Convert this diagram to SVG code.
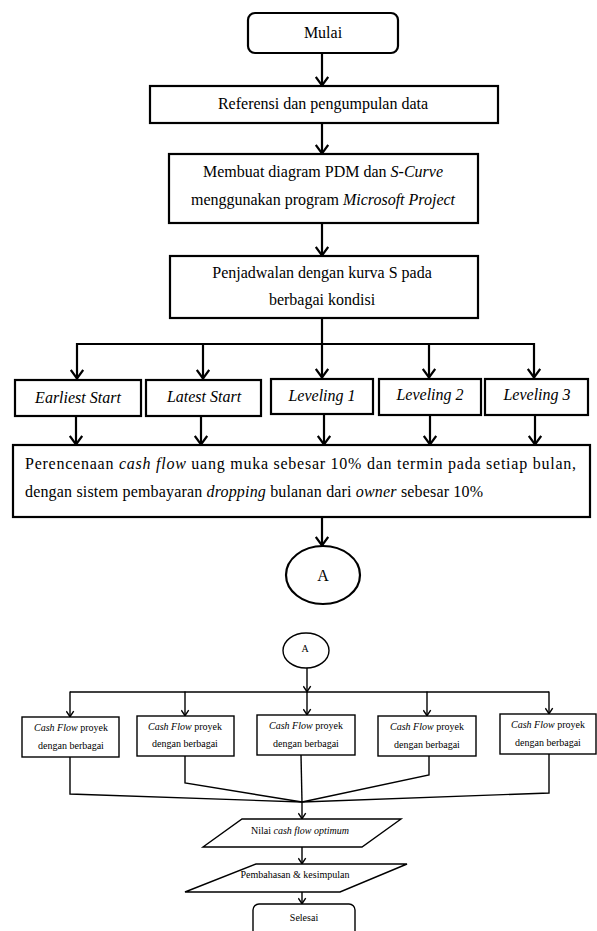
<svg xmlns="http://www.w3.org/2000/svg" width="597" height="931" viewBox="0 0 597 931">
<defs>
<style>
.t{font-family:"Liberation Serif","Times New Roman",serif;font-size:16px;fill:#000;text-anchor:middle}
.s{font-family:"Liberation Serif","Times New Roman",serif;font-size:10px;fill:#000;text-anchor:middle}
.i{font-style:italic}
.box{fill:#fff;stroke:#000;stroke-width:2.2}
.sbox{fill:#fff;stroke:#000;stroke-width:1.4}
.ln{fill:none;stroke:#000;stroke-width:2.2}
.sln{fill:none;stroke:#000;stroke-width:1.4}
</style>
<marker id="ah" viewBox="0 0 12 14" refX="11" refY="7" markerWidth="12" markerHeight="14" markerUnits="userSpaceOnUse" orient="auto">
<path d="M2,0.8 L10.5,7 L2,13.2" fill="none" stroke="#000" stroke-width="2.2"/>
</marker>
<marker id="ahs" viewBox="0 0 8 9" refX="7.3" refY="4.5" markerWidth="8" markerHeight="9" markerUnits="userSpaceOnUse" orient="auto">
<path d="M1.5,0.8 L7,4.5 L1.5,8.2" fill="none" stroke="#000" stroke-width="1.4"/>
</marker>
</defs>
<rect width="597" height="931" fill="#fff"/>

<g id="connectors">
<line class="ln" x1="322" y1="53" x2="322" y2="86" marker-end="url(#ah)"/>
<line class="ln" x1="322" y1="123" x2="322" y2="154" marker-end="url(#ah)"/>
<line class="ln" x1="322" y1="223" x2="322" y2="256" marker-end="url(#ah)"/>
<line class="ln" x1="322" y1="318" x2="322" y2="344"/>
<line class="ln" x1="76" y1="344" x2="535" y2="344"/>
<line class="ln" x1="77" y1="343" x2="77" y2="379" marker-end="url(#ah)"/>
<line class="ln" x1="203" y1="343" x2="203" y2="379" marker-end="url(#ah)"/>
<line class="ln" x1="322" y1="343" x2="322" y2="378" marker-end="url(#ah)"/>
<line class="ln" x1="429" y1="343" x2="429" y2="378" marker-end="url(#ah)"/>
<line class="ln" x1="534" y1="343" x2="534" y2="378" marker-end="url(#ah)"/>
<line class="ln" x1="76" y1="416" x2="76" y2="445" marker-end="url(#ah)"/>
<line class="ln" x1="201" y1="416" x2="201" y2="445" marker-end="url(#ah)"/>
<line class="ln" x1="324" y1="414" x2="324" y2="445" marker-end="url(#ah)"/>
<line class="ln" x1="430" y1="415" x2="430" y2="445" marker-end="url(#ah)"/>
<line class="ln" x1="535" y1="415" x2="535" y2="445" marker-end="url(#ah)"/>
<line class="ln" x1="322" y1="517" x2="322" y2="546" marker-end="url(#ah)"/>

<line class="sln" x1="307" y1="668" x2="307" y2="692" marker-end="url(#ahs)"/>
<line class="sln" x1="70" y1="692" x2="549" y2="692"/>
<line class="sln" x1="70" y1="691.5" x2="70" y2="717" marker-end="url(#ahs)"/>
<line class="sln" x1="185" y1="691.5" x2="185" y2="716" marker-end="url(#ahs)"/>
<line class="sln" x1="307" y1="691.5" x2="307" y2="715" marker-end="url(#ahs)"/>
<line class="sln" x1="427" y1="691.5" x2="427" y2="716" marker-end="url(#ahs)"/>
<line class="sln" x1="549" y1="691.5" x2="549" y2="714" marker-end="url(#ahs)"/>
<polyline class="sln" points="70,757 70,794 302,802"/>
<polyline class="sln" points="185,756 185,783 302,802"/>
<polyline class="sln" points="301,755 302,802"/>
<polyline class="sln" points="429,756 429,775 302,802"/>
<polyline class="sln" points="549,754 549,793 302,802"/>
<line class="sln" x1="302" y1="802" x2="302" y2="819" marker-end="url(#ahs)"/>
<line class="sln" x1="302" y1="847" x2="302" y2="864" marker-end="url(#ahs)"/>
<line class="sln" x1="302" y1="892" x2="302" y2="904" marker-end="url(#ahs)"/>
</g>

<g id="mulai">
<rect class="box" x="248" y="13" width="150" height="40" rx="7"/>
<text class="t" x="323" y="38">Mulai</text>
</g>
<g id="referensi">
<rect class="box" x="150" y="86" width="348" height="37"/>
<text class="t" x="323" y="109">Referensi  dan pengumpulan  data</text>
</g>
<g id="membuat">
<rect class="box" x="169" y="154" width="309" height="69"/>
<text class="t" x="323" y="177">Membuat  diagram PDM dan <tspan class="i">S-Curve</tspan></text>
<text class="t" x="323" y="205">menggunakan  program <tspan class="i">Microsoft  Project</tspan></text>
</g>
<g id="penjadwalan">
<rect class="box" x="170" y="256" width="308" height="62"/>
<text class="t" x="322" y="278">Penjadwalan  dengan  kurva S pada</text>
<text class="t" x="322" y="305">berbagai  kondisi</text>
</g>
<g id="earliest">
<rect class="box" x="15" y="380" width="126" height="36"/>
<text class="t i" x="78" y="403">Earliest Start</text>
</g>
<g id="latest">
<rect class="box" x="146" y="380" width="115" height="36"/>
<text class="t i" x="204" y="402">Latest Start</text>
</g>
<g id="leveling1">
<rect class="box" x="271" y="379" width="102" height="35"/>
<text class="t i" x="322" y="401">Leveling  1</text>
</g>
<g id="leveling2">
<rect class="box" x="379" y="379" width="102" height="36"/>
<text class="t i" x="430" y="400">Leveling  2</text>
</g>
<g id="leveling3">
<rect class="box" x="485" y="379" width="103" height="36"/>
<text class="t i" x="537" y="400">Leveling  3</text>
</g>
<g id="perencanaan">
<rect class="box" x="13" y="445" width="577" height="72"/>
<text class="t" x="25" y="469" style="text-anchor:start" textLength="551" lengthAdjust="spacing">Perencenaan <tspan class="i">cash flow</tspan> uang muka sebesar 10% dan termin pada setiap bulan,</text>
<text class="t" x="25" y="497" style="text-anchor:start" textLength="458" lengthAdjust="spacing">dengan sistem pembayaran <tspan class="i">dropping</tspan> bulanan dari <tspan class="i">owner</tspan> sebesar  10%</text>
</g>
<g id="connector-a1">
<ellipse class="box" cx="323" cy="575" rx="37" ry="29"/>
<text class="t" x="323" y="581">A</text>
</g>

<g id="connector-a2">
<ellipse class="sbox" cx="306" cy="650.5" rx="23" ry="17.5"/>
<text class="s" x="305" y="652">A</text>
</g>
<g id="cf1">
<rect class="sbox" x="22" y="717" width="97" height="40"/>
<text class="s" x="71" y="731"><tspan class="i">Cash Flow</tspan> proyek</text>
<text class="s" x="71" y="749">dengan berbagai</text>
</g>
<g id="cf2">
<rect class="sbox" x="137" y="716" width="97" height="40"/>
<text class="s" x="185" y="730"><tspan class="i">Cash Flow</tspan> proyek</text>
<text class="s" x="185" y="747">dengan berbagai</text>
</g>
<g id="cf3">
<rect class="sbox" x="257" y="715" width="98" height="40"/>
<text class="s" x="306" y="729"><tspan class="i">Cash Flow</tspan> proyek</text>
<text class="s" x="306" y="747">dengan berbagai</text>
</g>
<g id="cf4">
<rect class="sbox" x="378" y="716" width="98" height="40"/>
<text class="s" x="427" y="730"><tspan class="i">Cash Flow</tspan> proyek</text>
<text class="s" x="427" y="748">dengan berbagai</text>
</g>
<g id="cf5">
<rect class="sbox" x="500" y="714" width="96" height="40"/>
<text class="s" x="548" y="728"><tspan class="i">Cash Flow</tspan> proyek</text>
<text class="s" x="548" y="746">dengan berbagai</text>
</g>
<g id="nilai">
<polygon class="sbox" points="242,819 401,819 362,847 203,847"/>
<text class="s" x="300" y="834">Nilai <tspan class="i">cash flow optimum</tspan></text>
</g>
<g id="pembahasan">
<polygon class="sbox" points="256,864 407,864 340,892 185,892"/>
<text class="s" x="295" y="878">Pembahasan  &amp; kesimpulan</text>
</g>
<g id="selesai">
<rect class="sbox" x="253" y="904" width="102" height="40" rx="6"/>
<text class="s" x="304" y="921">Selesai</text>
</g>
</svg>
